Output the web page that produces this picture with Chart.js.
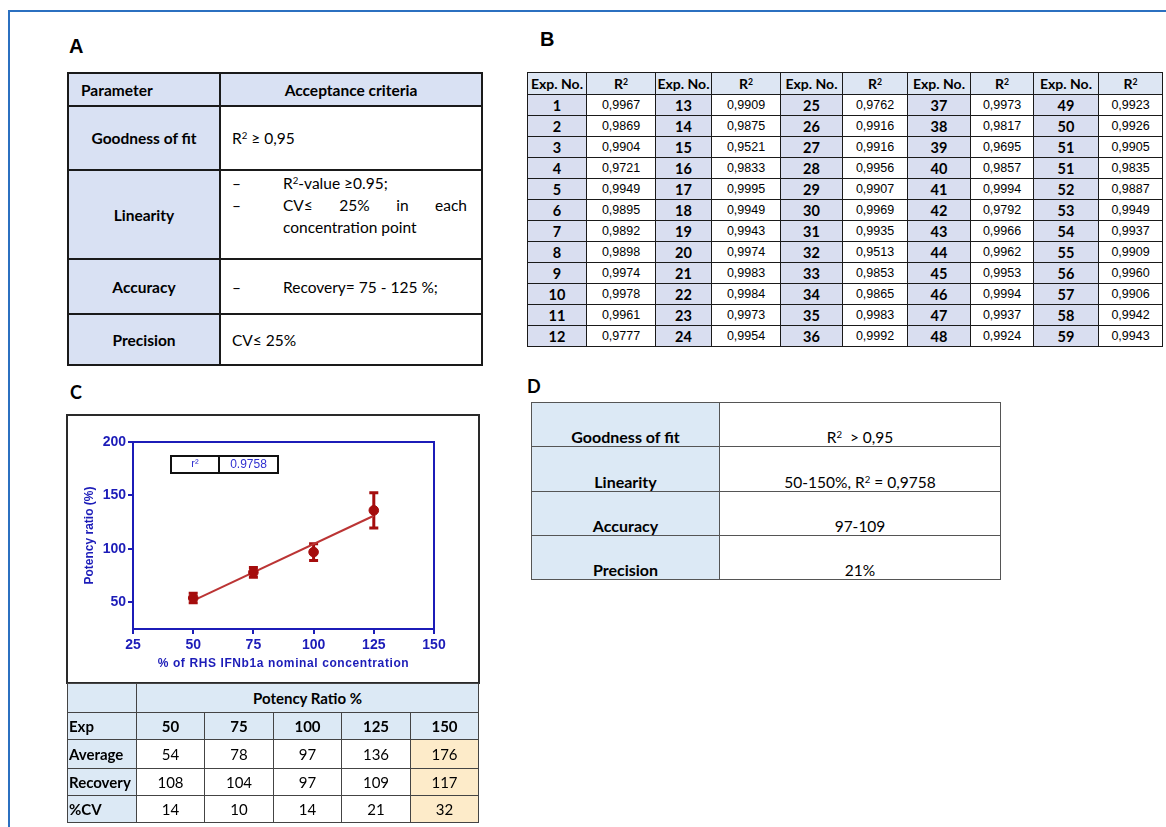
<!DOCTYPE html>
<html>
<head>
<meta charset="utf-8">
<script src="https://cdn.jsdelivr.net/npm/chart.js@4.4.1/dist/chart.umd.min.js"></script>
<style>
  html, body { margin: 0; padding: 0; background: #fff; }
  #page { position: relative; width: 1166px; height: 827px; overflow: hidden; background: #fff; color: #000; font-family: Lato, "Open Sans", sans-serif; }
  #frame { position: absolute; left: 8px; top: 10px; width: 1300px; height: 1000px; border-left: 2px solid #2b70c0; border-top: 2px solid #2b70c0; }
  .lbl { position: absolute; font-weight: 700; line-height: 1; }
  .lblAB { font-family: "Liberation Sans", Arial, sans-serif; font-size: 20px; }
  .lblCD { font-family: Lato, sans-serif; font-size: 18px; }
  table { position: absolute; border-collapse: collapse; table-layout: fixed; font-family: Lato, sans-serif; }
  td { padding: 0; overflow: hidden; white-space: nowrap; }
  sup { font-size: 0.62em; vertical-align: 0.5em; line-height: 0; }

  /* Panel A */
  #tA td { border: 2px solid #1a1a1a; font-size: 15.5px; }
  #tA .h { background: #d9e1f3; font-weight: 700; text-align: center; }
  #tA .v { padding-left: 11px; padding-right: 14px; }
  #tA .top { vertical-align: top; padding-top: 1px; }
  .item { display: flex; height: 22px; line-height: 22px; }
  .dash { width: 51px; flex: none; }
  .just { flex: 1; text-align: justify; text-align-last: justify; }

  /* Panel B */
  #tB td { border: 1.5px solid #1a1a1a; text-align: center; }
  #tB .hd { background: #dde6f3; font-weight: 700; font-size: 14px; }
  #tB .ex { background: #d9def0; font-weight: 700; font-size: 14.5px; }
  #tB .rv { background: #fff; font-family: "Liberation Sans", Arial, sans-serif; font-size: 12.5px; }

  /* Panel C table */
  #chartBox { position: absolute; left: 66px; top: 414px; width: 414px; height: 270px; box-sizing: border-box; border: 2px solid #2a2a2a; pointer-events: none; }
  #cv { position: absolute; left: 67px; top: 415px; }
  #tC td { border: 1.5px solid #444; font-size: 15px; text-align: center; background: #fff; }
  #tC .hb { background: #dce9f5; font-weight: 700; }
  #tC .rl { background: #dce9f5; font-weight: 700; text-align: left; padding-left: 1px; }
  #tC .hi { background: #fdebc9; }

  /* Panel D */
  #tD td { border: 1.5px solid #555; font-size: 15.5px; vertical-align: bottom; padding-bottom: 0px; text-align: center; }
  #tD .k { background: #dce9f5; font-weight: 700; font-size: 16px; }
</style>
</head>
<body>
<div id="page">
  <div id="frame"></div>

  <div class="lbl lblAB" style="left:69px;top:36px;">A</div>
  <div class="lbl lblAB" style="left:540px;top:29px;">B</div>
  <div class="lbl lblCD" style="left:70px;top:383px;">C</div>
  <div class="lbl lblCD" style="left:527px;top:377px;">D</div>

  <!-- A: acceptance criteria -->
  <table id="tA" style="left:67px;top:72px;width:414px;">
    <colgroup><col style="width:152px"><col style="width:262px"></colgroup>
    <tr style="height:33px"><td class="h" style="text-align:left;padding-left:12px;">Parameter</td><td class="h">Acceptance criteria</td></tr>
    <tr style="height:64px"><td class="h">Goodness of fit</td><td class="v">R<sup>2</sup> ≥ 0,95</td></tr>
    <tr style="height:89px"><td class="h">Linearity</td><td class="v top">
      <div class="item"><span class="dash">–</span><span>R<sup>2</sup>-value ≥0.95;</span></div>
      <div class="item"><span class="dash">–</span><span class="just">CV≤ 25% in each</span></div>
      <div class="item"><span class="dash"></span><span>concentration point</span></div>
    </td></tr>
    <tr style="height:55px"><td class="h">Accuracy</td><td class="v"><div class="item"><span class="dash">–</span><span>Recovery= 75 - 125 %;</span></div></td></tr>
    <tr style="height:51px"><td class="h">Precision</td><td class="v">CV≤ 25%</td></tr>
  </table>

  <!-- B: R² per experiment -->
  <table id="tB" style="left:527px;top:72px;"></table>

  <!-- C: calibration plot and summary -->
  <canvas id="cv" width="413" height="268"></canvas>
  <div id="chartBox"></div>
  <table id="tC" style="left:67px;top:683px;"></table>

  <!-- D: results -->
  <table id="tD" style="left:531px;top:402px;width:469px;">
    <colgroup><col style="width:188px"><col style="width:281px"></colgroup>
    <tr style="height:44px"><td class="k">Goodness of fit</td><td>R<sup>2</sup>&nbsp; &gt; 0,95</td></tr>
    <tr style="height:45px"><td class="k">Linearity</td><td>50-150%, R<sup>2</sup> = 0,9758</td></tr>
    <tr style="height:44px"><td class="k">Accuracy</td><td>97-109</td></tr>
    <tr style="height:44px"><td class="k">Precision</td><td>21%</td></tr>
  </table>
</div>

<script>
// ---- Panel B data: experiment numbers and R² per experiment (5 column pairs) ----
const expNoCol1 = [1, 2, 3, 4, 5, 6, 7, 8, 9, 10, 11, 12];
const expNoCol2 = [13, 14, 15, 16, 17, 18, 19, 20, 21, 22, 23, 24];
const expNoCol3 = [25, 26, 27, 28, 29, 30, 31, 32, 33, 34, 35, 36];
const expNoCol4 = [37, 38, 39, 40, 41, 42, 43, 44, 45, 46, 47, 48];
const expNoCol5 = [49, 50, 51, 51, 52, 53, 54, 55, 56, 57, 58, 59];
const r2Col1 = [0.9967, 0.9869, 0.9904, 0.9721, 0.9949, 0.9895, 0.9892, 0.9898, 0.9974, 0.9978, 0.9961, 0.9777];
const r2Col2 = [0.9909, 0.9875, 0.9521, 0.9833, 0.9995, 0.9949, 0.9943, 0.9974, 0.9983, 0.9984, 0.9973, 0.9954];
const r2Col3 = [0.9762, 0.9916, 0.9916, 0.9956, 0.9907, 0.9969, 0.9935, 0.9513, 0.9853, 0.9865, 0.9983, 0.9992];
const r2Col4 = [0.9973, 0.9817, 0.9695, 0.9857, 0.9994, 0.9792, 0.9966, 0.9962, 0.9953, 0.9994, 0.9937, 0.9924];
const r2Col5 = [0.9923, 0.9926, 0.9905, 0.9835, 0.9887, 0.9949, 0.9937, 0.9909, 0.9960, 0.9906, 0.9942, 0.9943];

// ---- Panel C data: nominal levels and potency ratio summary ----
const levels = [50, 75, 100, 125, 150];
const averages = [54, 78, 97, 136, 176];
const recoveries = [108, 104, 97, 109, 117];
const cvPercent = [14, 10, 14, 21, 32];
const outOfRangeLevels = [150];

// levels used for the linear fit, and their error bar half-widths
const fitLevels = [50, 75, 100, 125];
const errHalf = [4.4, 4.5, 7.8, 16.5];
const rSquaredText = '0.9758';

const xTicks = [25, 50, 75, 100, 125, 150];
const yTicks = [50, 100, 150, 200];

// ---------- build table B ----------
(function () {
  const expCols = [expNoCol1, expNoCol2, expNoCol3, expNoCol4, expNoCol5];
  const r2Cols = [r2Col1, r2Col2, r2Col3, r2Col4, r2Col5];
  const widths = [59, 69, 56, 69, 62, 65, 63, 63, 65, 64];
  const t = document.getElementById('tB');
  let html = '<colgroup>' + widths.map(w => `<col style="width:${w}px">`).join('') + '</colgroup>';
  t.style.width = widths.reduce((a, b) => a + b, 0) + 'px';
  html += '<tr style="height:22px">';
  for (let c = 0; c < expCols.length; c++) html += '<td class="hd">Exp. No.</td><td class="hd">R<sup>2</sup></td>';
  html += '</tr>';
  for (let r = 0; r < expNoCol1.length; r++) {
    html += '<tr style="height:21px">';
    for (let c = 0; c < expCols.length; c++) {
      html += `<td class="ex">${expCols[c][r]}</td><td class="rv">${r2Cols[c][r].toFixed(4).replace('.', ',')}</td>`;
    }
    html += '</tr>';
  }
  t.innerHTML = html;
})();

// ---------- build table under the plot ----------
(function () {
  const widths = [69, 68, 69, 68, 69, 68];
  const t = document.getElementById('tC');
  t.style.width = widths.reduce((a, b) => a + b, 0) + 'px';
  const cls = i => outOfRangeLevels.includes(levels[i]) ? ' class="hi"' : '';
  let html = '<colgroup>' + widths.map(w => `<col style="width:${w}px">`).join('') + '</colgroup>';
  html += `<tr style="height:29px"><td class="hb"></td><td class="hb" colspan="${levels.length}">Potency Ratio %</td></tr>`;
  html += '<tr style="height:27px"><td class="rl">Exp</td>' + levels.map(l => `<td class="hb">${l}</td>`).join('') + '</tr>';
  const rows = [['Average', averages], ['Recovery', recoveries], ['%CV', cvPercent]];
  const hs = [29, 27, 27];
  rows.forEach(([name, vals], k) => {
    html += `<tr style="height:${hs[k]}px"><td class="rl">${name}</td>` + vals.map((v, i) => `<td${cls(i)}>${v}</td>`).join('') + '</tr>';
  });
  t.innerHTML = html;
})();

// ---------- plot ----------
const axisBlue = '#1c1cb8';
const markRed = '#a50d0d';
const fitRed = '#bb3434';

const fitAverages = fitLevels.map(l => averages[levels.indexOf(l)]);
const points = fitLevels.map((l, i) => ({ x: l, y: fitAverages[i] }));

// least-squares line through the mean potency ratios
const n = fitLevels.length;
const mx = fitLevels.reduce((a, b) => a + b, 0) / n;
const my = fitAverages.reduce((a, b) => a + b, 0) / n;
let sxy = 0, sxx = 0;
for (let i = 0; i < n; i++) { sxy += (fitLevels[i] - mx) * (fitAverages[i] - my); sxx += (fitLevels[i] - mx) ** 2; }
const slope = sxy / sxx, intercept = my - slope * mx;
const fitLine = [fitLevels[0], fitLevels[n - 1]].map(x => ({ x, y: intercept + slope * x }));

const errorBars = {
  id: 'errorBars',
  beforeDatasetsDraw(chart) {
    const { ctx, scales: { x, y } } = chart;
    ctx.save();
    ctx.strokeStyle = markRed;
    ctx.lineWidth = 3;
    fitLevels.forEach((lv, i) => {
      const px = x.getPixelForValue(lv);
      const t = y.getPixelForValue(fitAverages[i] + errHalf[i]);
      const b = y.getPixelForValue(fitAverages[i] - errHalf[i]);
      ctx.beginPath();
      ctx.moveTo(px, t); ctx.lineTo(px, b);
      ctx.moveTo(px - 4.5, t); ctx.lineTo(px + 4.5, t);
      ctx.moveTo(px - 4.5, b); ctx.lineTo(px + 4.5, b);
      ctx.stroke();
    });
    ctx.restore();
  }
};

// the x-axis title is set slightly tracked out
const spacedXTitle = {
  id: 'spacedXTitle',
  afterUpdate(chart) {
    const xs = chart.scales.x;
    if (!xs || xs._spaced) return;
    const orig = xs.drawTitle.bind(xs);
    xs.drawTitle = function (area) {
      const ctx = chart.ctx;
      ctx.save();
      if ('letterSpacing' in ctx) ctx.letterSpacing = '0.6px';
      orig(area);
      ctx.restore();
    };
    xs._spaced = true;
  }
};

const plotFrame = {
  id: 'plotFrame',
  afterDraw(chart) {
    const { ctx, chartArea: a } = chart;
    ctx.save();
    ctx.strokeStyle = axisBlue;
    ctx.lineWidth = 2;
    ctx.beginPath();
    ctx.moveTo(a.left - 1, a.top); ctx.lineTo(a.right, a.top); ctx.lineTo(a.right, a.bottom + 1);
    ctx.stroke();

    // r² inset
    const x0 = a.left + 38, x1 = a.left + 86, x2 = a.left + 145;
    const y0 = a.top + 14, y1 = a.top + 31;
    ctx.strokeStyle = '#111';
    ctx.lineWidth = 2;
    ctx.strokeRect(x0, y0, x2 - x0, y1 - y0);
    ctx.beginPath(); ctx.moveTo(x1, y0); ctx.lineTo(x1, y1); ctx.stroke();
    ctx.fillStyle = '#3030d0';
    ctx.textAlign = 'center';
    ctx.textBaseline = 'middle';
    ctx.font = '11px "Liberation Sans", Arial, sans-serif';
    ctx.fillText('r²', (x0 + x1) / 2, (y0 + y1) / 2 - 1);
    ctx.font = '12px "Liberation Sans", Arial, sans-serif';
    ctx.fillText(rSquaredText, (x1 + x2) / 2, (y0 + y1) / 2);
    ctx.restore();
  }
};

const tickFont = { family: '"Liberation Sans", Arial, sans-serif', size: 14, weight: 'bold' };
const titleFont = { family: '"Liberation Sans", Arial, sans-serif', size: 12, weight: 'bold' };

new Chart(document.getElementById('cv'), {
  type: 'scatter',
  data: {
    datasets: [
      { data: points, backgroundColor: markRed, borderColor: markRed, pointRadius: 4.8, pointHoverRadius: 4.8, order: 1 },
      { data: fitLine, showLine: true, borderColor: fitRed, borderWidth: 2, pointRadius: 0, fill: false, order: 2 }
    ]
  },
  options: {
    responsive: false,
    animation: false,
    devicePixelRatio: 1,
    layout: { padding: { left: 0, right: 46, top: 27, bottom: 0 } },
    plugins: { legend: { display: false }, tooltip: { enabled: false } },
    scales: {
      x: {
        type: 'linear', min: 25, max: 150,
        afterBuildTicks: s => { s.ticks = xTicks.map(v => ({ value: v })); },
        afterFit: s => { s.height = 54; },
        grid: { drawOnChartArea: false, drawTicks: true, tickLength: 5, color: axisBlue, lineWidth: 2 },
        border: { display: true, color: axisBlue, width: 2 },
        ticks: { color: axisBlue, font: tickFont, padding: 3, maxRotation: 0, autoSkip: false },
        title: { display: true, text: '% of RHS IFNb1a nominal concentration', color: axisBlue, font: titleFont, padding: { top: 0, bottom: 12 } }
      },
      y: {
        type: 'linear', min: 25, max: 200,
        afterBuildTicks: s => { s.ticks = yTicks.map(v => ({ value: v })); },
        afterFit: s => { s.width = 66; },
        grid: { drawOnChartArea: false, drawTicks: true, tickLength: 5, color: axisBlue, lineWidth: 2 },
        border: { display: true, color: axisBlue, width: 2 },
        ticks: { color: axisBlue, font: tickFont, padding: 2 },
        title: { display: true, text: 'Potency ratio (%)', color: axisBlue, font: titleFont, padding: { top: 15, bottom: 0 } }
      }
    }
  },
  plugins: [spacedXTitle, errorBars, plotFrame]
});
</script>
</body>
</html>
